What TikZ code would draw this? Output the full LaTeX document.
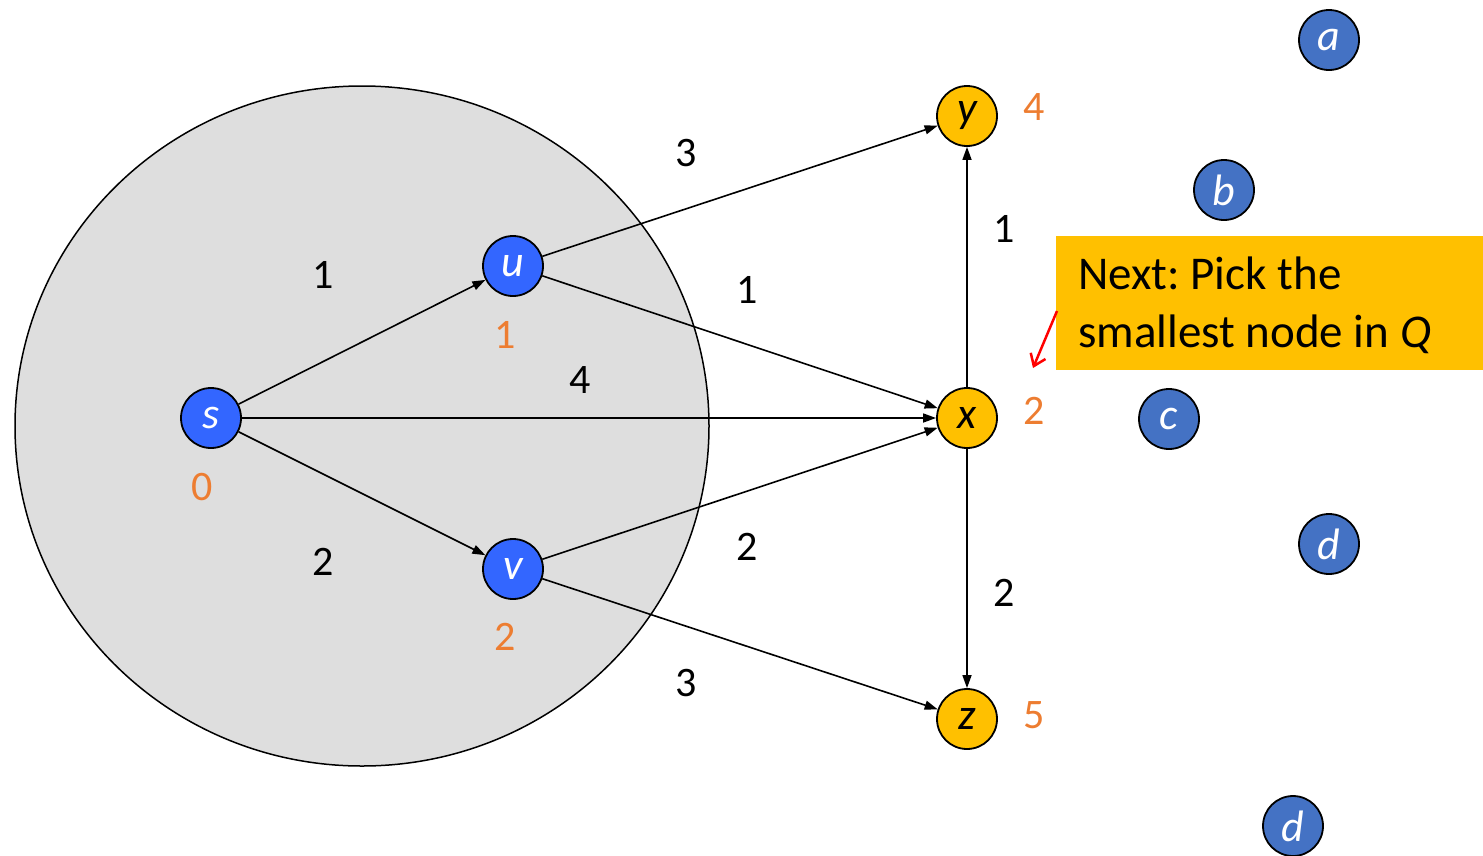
\documentclass[tikz,border=0pt]{standalone}
\usepackage{fontspec}
\setmainfont{Carlito}
\usetikzlibrary{arrows.meta}
\definecolor{setblue}{HTML}{3366FF}
\definecolor{qblue}{HTML}{4472C4}
\definecolor{qyellow}{HTML}{FFC000}
\definecolor{distorange}{HTML}{ED7D31}
\definecolor{cloudgray}{HTML}{DEDEDE}
\frenchspacing
\begin{document}
\begin{tikzpicture}[x=1pt,y=-1pt,
  vert/.style={circle,draw=black,line width=1.8pt,minimum size=60pt,inner sep=0pt,
    font=\fontsize{44}{46}\selectfont\itshape},
  done/.style={vert,fill=setblue,text=white},
  fresh/.style={vert,fill=qblue,text=white},
  front/.style={vert,fill=qyellow,text=black},
  dist/.style={text=distorange,font=\fontsize{42}{44}\selectfont},
  wt/.style={text=black,font=\fontsize{42}{44}\selectfont},
  edge/.style={line width=1.6pt,-{Triangle[length=13pt,width=9pt]}}]
\useasboundingbox (0,0) rectangle (1483,855);
% explored region
\fill[cloudgray,draw=black,line width=1.5pt] (362,426) ellipse [x radius=347, y radius=340];
% vertices
\node[done] (s) at (211,418) {s};
\node[done] (u) at (513,266) {u};
\node[done] (v) at (513,569) {v};
\node[front] (y) at (967,116) {y};
\node[front] (x) at (967,418) {x};
\node[front] (z) at (967,719) {z};
\node[fresh] (a) at (1329,40) {a};
\node[fresh] (b) at (1224,190) {b};
\node[fresh] (c) at (1169,419) {c};
\node[fresh] (d) at (1329,544) {d};
\node[fresh] (d2) at (1293,826) {d};
% edges
\draw[edge] (s) -- (u);
\draw[edge] (s) -- (x);
\draw[edge] (s) -- (v);
\draw[edge] (u) -- (y);
\draw[edge] (u) -- (x);
\draw[edge] (v) -- (x);
\draw[edge] (v) -- (z);
\draw[edge] (x) -- (y);
\draw[edge] (x) -- (z);
% edge weights
\node[wt] (w1) at (686,153) {3};
\node[wt] (w2) at (323,275) {1};
\node[wt] (w3) at (747,290) {1};
\node[wt] (w4) at (580,380) {4};
\node[wt] (w5) at (323,562) {2};
\node[wt] (w6) at (747,547) {2};
\node[wt] (w7) at (686,683) {3};
\node[wt] (w8) at (1004,229) {1};
\node[wt] (w9) at (1004,593) {2};
% distances
\node[dist] (ds) at (202,487) {0};
\node[dist] (du) at (505,335) {1};
\node[dist] (dv) at (505,637) {2};
\node[dist] (dy) at (1034,107) {4};
\node[dist] (dx) at (1034,411) {2};
\node[dist] (dz) at (1034,715) {5};
% callout
\fill[qyellow] (1056,236) rectangle (1483,370);
\node[anchor=north west,align=left,inner sep=0pt,font=\fontsize{47}{58}\selectfont] (note) at (1078,257)
  {Next: Pick the\\smallest node in {\itshape Q}};
\coordinate (pa) at (1057,311);
\coordinate (pb) at (1033,368);
\draw[red,line width=2.5pt,-{Straight Barb[length=11pt,width=16pt]}] (pa) -- (pb);
\end{tikzpicture}
\end{document}
